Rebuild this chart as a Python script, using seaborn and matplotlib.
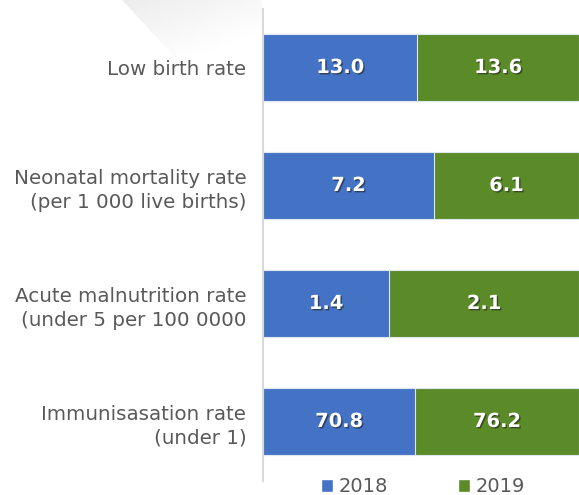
import numpy as np
import pandas as pd
import matplotlib
matplotlib.use("Agg")
import matplotlib.pyplot as plt
import matplotlib.patheffects as pe
from matplotlib.patches import Patch, Polygon
import seaborn as sns

categories = ["Low birth rate",
              "Neonatal mortality rate\n(per 1 000 live births)",
              "Acute malnutrition rate\n(under 5 per 100 0000",
              "Immunisasation rate\n(under 1)"]
values_2018 = [13.0, 7.2, 1.4, 70.8]
values_2019 = [13.6, 6.1, 2.1, 76.2]
series_labels = ["2018", "2019"]

BLUE = "#4472C4"
GREEN = "#5B8A28"
TEXT = "#595959"

df = pd.DataFrame({"category": categories, "v2018": values_2018, "v2019": values_2019})
df["total"] = df["v2018"] + df["v2019"]
df["share2018"] = df["v2018"] / df["total"]
df["share_all"] = df["total"] / df["total"]

sns.set_style("white")
plt.rcParams["font.family"] = ["DejaVu Sans"]

fig = plt.figure(figsize=(5.79, 4.95), dpi=100)

# decorative light shape at top-left (behind everything)
bg = fig.add_axes([0, 0, 1, 1], zorder=-5)
bg.set_xlim(0, 579)
bg.set_ylim(495, 0)
bg.axis("off")
poly = Polygon([(122, 0), (262, 0), (262, 70), (195, 78)], closed=True,
               facecolor="none", edgecolor="none")
bg.add_patch(poly)
gx = np.linspace(0, 1, 100)
gy = np.linspace(0, 1, 100)
G = 0.925 + 0.075 * np.clip((gx[None, :] * 0.6 + gy[:, None] * 0.9), 0, 1)
im = bg.imshow(G, cmap="gray", vmin=0, vmax=1, extent=(122, 262, 78, 0),
               aspect="auto", interpolation="bilinear")
im.set_clip_path(poly)

ax = fig.add_axes([263/579, 1-480.5/495, 1-263/579, (480.5-8.5)/495])
ax.patch.set_alpha(0)

sns.barplot(data=df, x="share_all", y="category", color=GREEN, width=0.57,
            edgecolor="#dfe8f0", linewidth=0.8, saturation=1, ax=ax, orient="h")
sns.barplot(data=df, x="share2018", y="category", color=BLUE, width=0.57,
            edgecolor="#dfe8f0", linewidth=0.8, saturation=1, ax=ax, orient="h")

ax.set_xlim(0, 1)
ax.set_ylim(3.5, -0.5)
ax.set_xlabel("")
ax.set_ylabel("")
ax.set_xticks([])
for s in ["top", "right", "bottom"]:
    ax.spines[s].set_visible(False)
ax.spines["left"].set_color("#d9d9d9")
ax.spines["left"].set_linewidth(1.5)
ax.tick_params(axis="y", length=0, pad=12, labelsize=14.3, labelcolor=TEXT)
for t in ax.get_yticklabels():
    t.set_horizontalalignment("right")
    t.set_multialignment("right")
    t.set_linespacing(1.35)

shadow = [pe.withSimplePatchShadow(offset=(1, -1), shadow_rgbFace="#202020", alpha=0.6)]
for i, row in df.iterrows():
    ax.text(row["share2018"]/2, i, f"{row['v2018']:.1f}", ha="center", va="center",
            color="white", fontsize=14, fontweight="bold", path_effects=shadow)
    ax.text(row["share2018"] + (1-row["share2018"])/2, i, f"{row['v2019']:.1f}",
            ha="center", va="center", color="white", fontsize=14, fontweight="bold",
            path_effects=shadow)

handles = [Patch(facecolor=BLUE, label=series_labels[0]),
           Patch(facecolor=GREEN, label=series_labels[1])]
fig.legend(handles=handles, loc="center", bbox_to_anchor=(423/579, 1-487/495), ncol=2,
           frameon=False, fontsize=14, labelcolor=TEXT, handlelength=0.6,
           handleheight=0.6, handletextpad=0.3, columnspacing=3.6)

fig.savefig("out.png", dpi=100)
